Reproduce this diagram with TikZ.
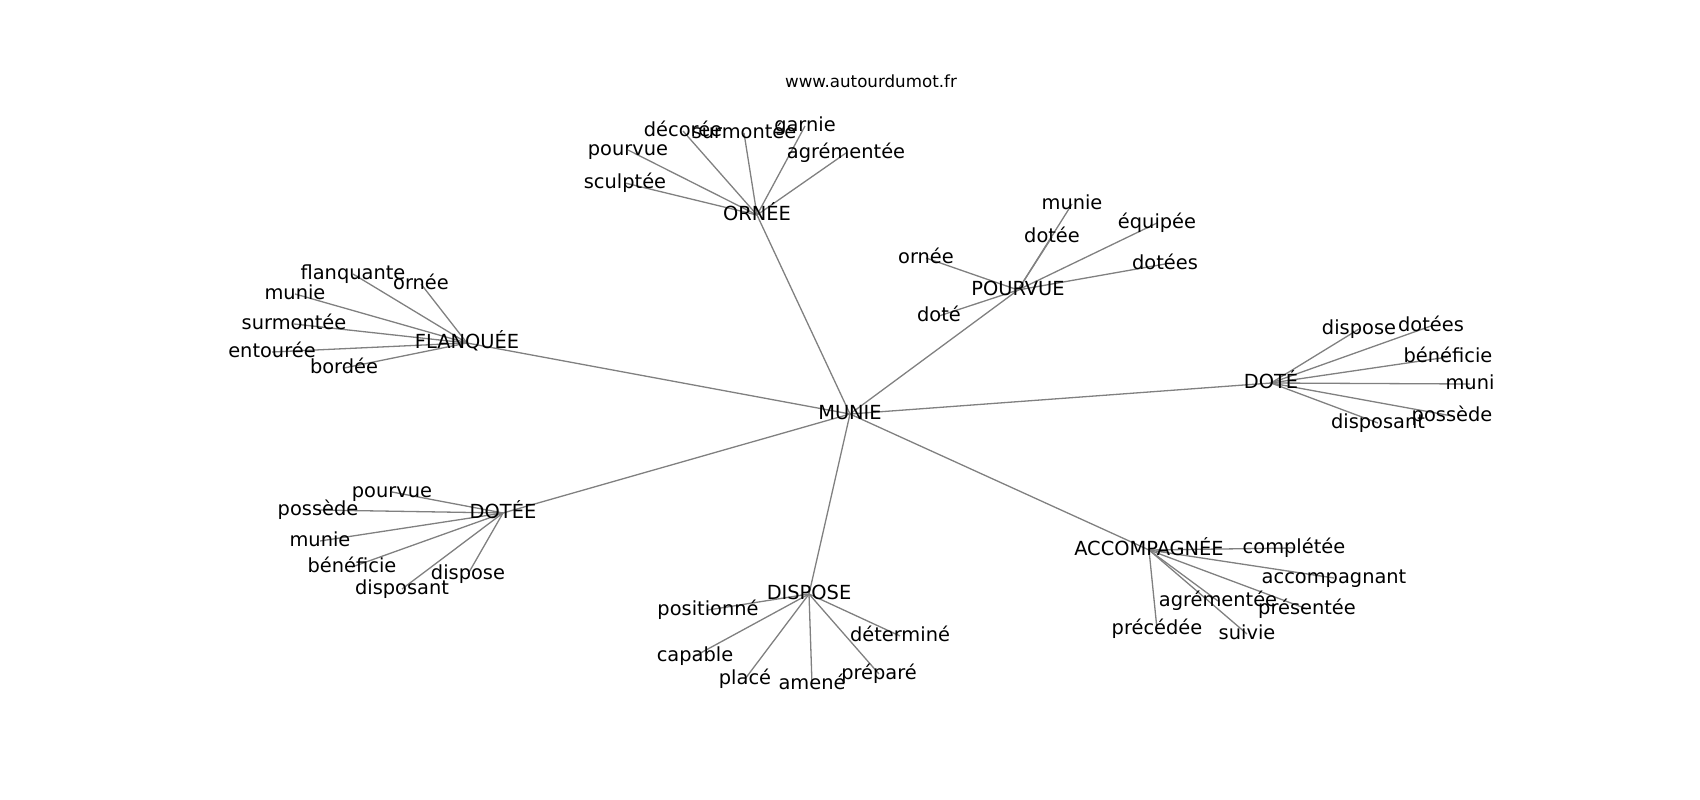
\documentclass[tikz,border=0pt]{standalone}
\usepackage{fontspec}
\setmainfont{DejaVu Sans}
\usetikzlibrary{backgrounds}
\tikzset{
  lbl/.style={inner sep=0pt, anchor=center, text height=1.1em, text depth=0pt, font=\fontsize{19.4pt}{20pt}\selectfont},
  ttl/.style={inner sep=0pt, anchor=center, text height=1.1em, text depth=0pt, font=\fontsize{16.7pt}{17pt}\selectfont},
  edge/.style={draw=black!50, line width=1.3pt}
}
\begin{document}
\begin{tikzpicture}[x=1pt,y=-1pt]
\useasboundingbox (0,0) rectangle (1700,800);
\node[ttl] (title) at (871,82) {www.autourdumot.fr};
% hub
\node[lbl] (munie) at (850,414) {MUNIE};
% ORNEE
\node[lbl] (ornee) at (757,215) {ORNÉE};
\node[lbl] (o1) at (683,131) {décorée};
\node[lbl] (o2) at (744,133) {surmontée};
\node[lbl] (o3) at (805,126) {garnie};
\node[lbl] (o4) at (846,153) {agrémentée};
\node[lbl] (o5) at (628,150) {pourvue};
\node[lbl] (o6) at (625,183) {sculptée};
% POURVUE
\node[lbl] (pourvue) at (1018,290) {POURVUE};
\node[lbl] (p1) at (1072,204) {munie};
\node[lbl] (p2) at (1052,237) {dotée};
\node[lbl] (p3) at (926,258) {ornée};
\node[lbl] (p4) at (939,316) {doté};
\node[lbl] (p5) at (1157,223) {équipée};
\node[lbl] (p6) at (1165,264) {dotées};
% FLANQUEE
\node[lbl] (flanquee) at (467,343) {FLANQUÉE};
\node[lbl] (f1) at (353,274) {flanquante};
\node[lbl] (f2) at (421,284) {ornée};
\node[lbl] (f3) at (295,294) {munie};
\node[lbl] (f4) at (294,324) {surmontée};
\node[lbl] (f5) at (272,352) {entourée};
\node[lbl] (f6) at (344,368) {bordée};
% DOTE
\node[lbl] (dote) at (1271,383) {DOTÉ};
\node[lbl] (d1) at (1359,329) {dispose};
\node[lbl] (d2) at (1431,326) {dotées};
\node[lbl] (d3) at (1448,357) {bénéficie};
\node[lbl] (d4) at (1470,384) {muni};
\node[lbl] (d5) at (1452,416) {possède};
\node[lbl] (d6) at (1378,423) {disposant};
% DOTEE
\node[lbl] (dotee) at (503,513) {DOTÉE};
\node[lbl] (e1) at (392,492) {pourvue};
\node[lbl] (e2) at (318,510) {possède};
\node[lbl] (e3) at (320,541) {munie};
\node[lbl] (e4) at (352,567) {bénéficie};
\node[lbl] (e5) at (402,589) {disposant};
\node[lbl] (e6) at (468,574) {dispose};
% DISPOSE
\node[lbl] (dispose) at (809,594) {DISPOSE};
\node[lbl] (s1) at (708,610) {positionné};
\node[lbl] (s2) at (900,636) {déterminé};
\node[lbl] (s3) at (695,656) {capable};
\node[lbl] (s4) at (745,679) {placé};
\node[lbl] (s5) at (812,684) {amené};
\node[lbl] (s6) at (879,674) {préparé};
% ACCOMPAGNEE
\node[lbl] (acc) at (1149,550) {ACCOMPAGNÉE};
\node[lbl] (a1) at (1294,548) {complétée};
\node[lbl] (a2) at (1334,578) {accompagnant};
\node[lbl] (a3) at (1218,601) {agrémentée};
\node[lbl] (a4) at (1307,609) {présentée};
\node[lbl] (a5) at (1157,629) {précédée};
\node[lbl] (a6) at (1247,634) {suivie};
\begin{scope}[on background layer]
\foreach \h in {ornee,pourvue,flanquee,dote,dotee,dispose,acc}
  \draw[edge] (munie.center) -- (\h.center);
\foreach \c in {o1,o2,o3,o4,o5,o6} \draw[edge] (ornee.center) -- (\c.center);
\foreach \c in {p1,p2,p3,p4,p5,p6} \draw[edge] (pourvue.center) -- (\c.center);
\foreach \c in {f1,f2,f3,f4,f5,f6} \draw[edge] (flanquee.center) -- (\c.center);
\foreach \c in {d1,d2,d3,d4,d5,d6} \draw[edge] (dote.center) -- (\c.center);
\foreach \c in {e1,e2,e3,e4,e5,e6} \draw[edge] (dotee.center) -- (\c.center);
\foreach \c in {s1,s2,s3,s4,s5,s6} \draw[edge] (dispose.center) -- (\c.center);
\foreach \c in {a1,a2,a3,a4,a5,a6} \draw[edge] (acc.center) -- (\c.center);
\end{scope}
\end{tikzpicture}
\end{document}
